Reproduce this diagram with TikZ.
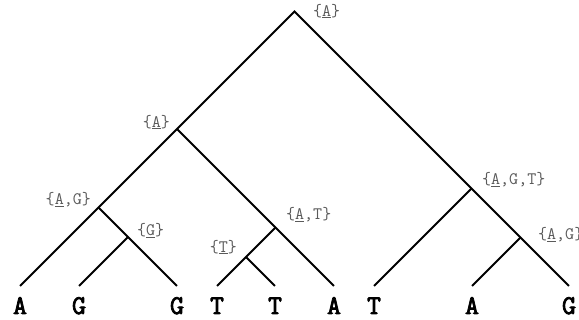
\documentclass[tikz,border=0pt]{standalone}
\usepackage{fontspec}
\usepackage{tikz}
\usetikzlibrary{positioning}
\usepackage{xcolor}
\definecolor{setcol}{RGB}{90,90,90}
\definecolor{edgecol}{RGB}{0,0,0}
\newfontfamily\leaffont[FakeBold=3]{Latin Modern Mono}

\tikzset{
  leaf/.style={anchor=north, inner sep=0pt, outer ysep=12pt, text height=16pt, text depth=0pt,
    font=\leaffont\fontsize{27}{29}\selectfont},
  setlbl/.style={inner sep=0pt, text=setcol, font=\ttfamily\fontsize{17.5}{19}\selectfont},
  edge/.style={draw=edgecol, line width=1.9pt, line join=miter}
}

\begin{document}
\begin{tikzpicture}[x=1pt, y=1pt]
  \useasboundingbox (0,0) rectangle (579,320);
  % tree vertices
  \coordinate (r)  at (294.5,308.5);
  \coordinate (n1) at (177,191);
  \coordinate (n2) at (98.5,112.5);
  \coordinate (n3) at (128,83);
  \coordinate (n4) at (275.5,92.5);
  \coordinate (n5) at (246,63);
  \coordinate (n6) at (471.5,131.5);
  \coordinate (n7) at (520.5,82.5);
  % leaves
  \node[leaf] (a1) at (20,34)  {A};
  \node[leaf] (g2) at (79,34)  {G};
  \node[leaf] (g3) at (177,34) {G};
  \node[leaf] (t4) at (217,34) {T};
  \node[leaf] (t5) at (275,34) {T};
  \node[leaf] (a6) at (334,34) {A};
  \node[leaf] (t7) at (374,34) {T};
  \node[leaf] (a8) at (472,34) {A};
  \node[leaf] (g9) at (569,34) {G};
  % edges
  \draw[edge] (a1.north) -- (r) -- (g9.north);
  \draw[edge] (n2) -- (g3.north);
  \draw[edge] (n3) -- (g2.north);
  \draw[edge] (n1) -- (a6.north);
  \draw[edge] (n4) -- (t4.north);
  \draw[edge] (n5) -- (t5.north);
  \draw[edge] (t7.north) -- (n6);
  \draw[edge] (a8.north) -- (n7);
  % candidate sets
  \node[setlbl, anchor=west] (s-r)  at (313,309) {\{\underline{A}\}};
  \node[setlbl, anchor=east] (s-n1) at (170,198) {\{\underline{A}\}};
  \node[setlbl, anchor=east] (s-n2) at (91,120)  {\{\underline{A},G\}};
  \node[setlbl, anchor=west] (s-n3) at (137,89)  {\{\underline{G}\}};
  \node[setlbl, anchor=west] (s-n4) at (286,105) {\{\underline{A},T\}};
  \node[setlbl, anchor=east] (s-n5) at (237,73)  {\{\underline{T}\}};
  \node[setlbl, anchor=west] (s-n6) at (482,140) {\{\underline{A},G,T\}};
  \node[setlbl, anchor=west] (s-n7) at (538,85)  {\{\underline{A},G\}};
\end{tikzpicture}
\end{document}
